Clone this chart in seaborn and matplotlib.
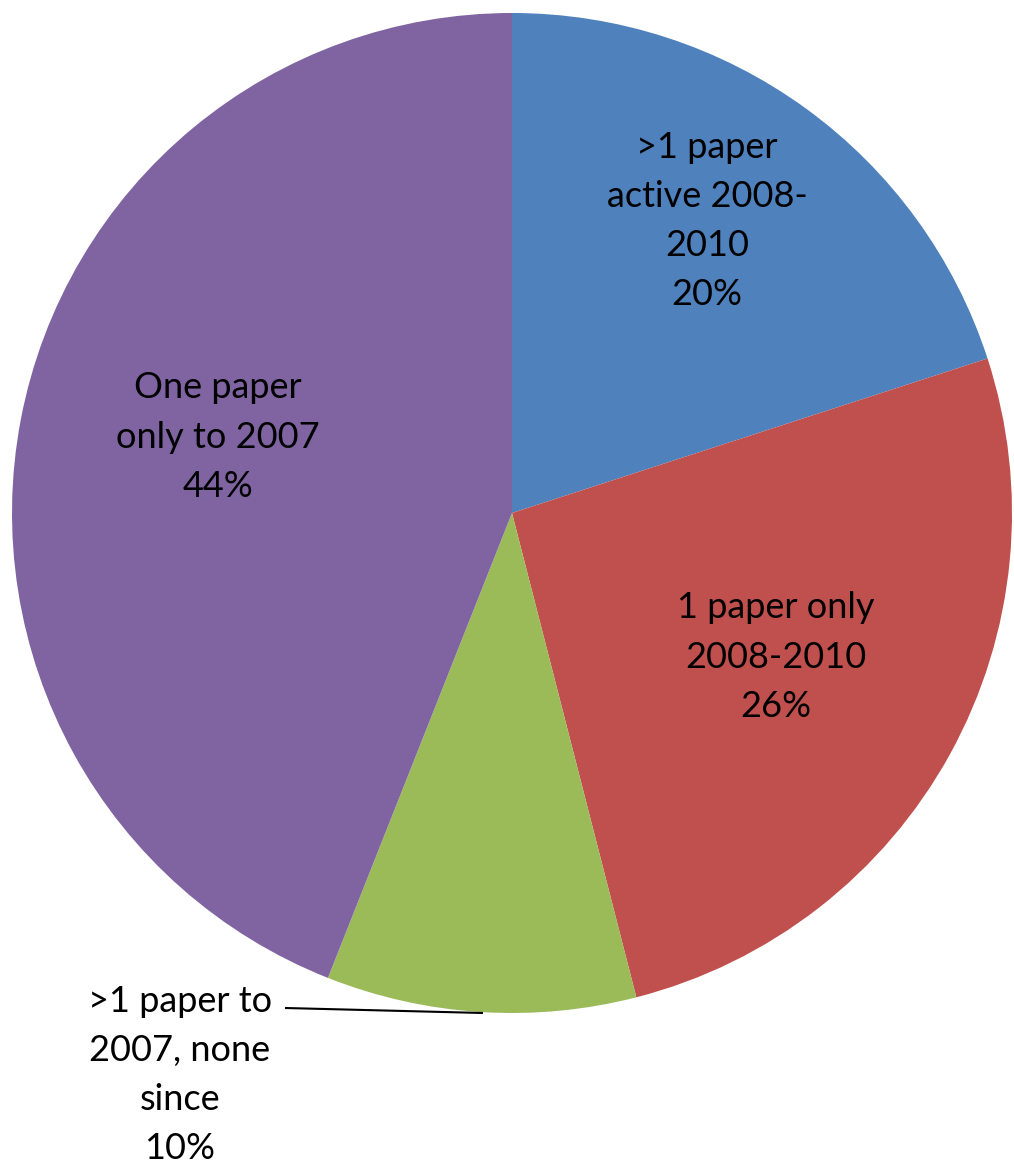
import matplotlib
matplotlib.use("Agg")
import matplotlib.pyplot as plt
import seaborn as sns

# Share of authors by publication activity
categories = [
    ">1 paper\nactive 2008-\n2010",
    "1 paper only\n2008-2010",
    ">1 paper to\n2007, none\nsince",
    "One paper\nonly to 2007",
]
shares = [20, 26, 10, 44]
colors = ["#4F81BD", "#C0504D", "#9BBB59", "#8064A2"]

sns.set_theme(style="white")
plt.rcParams["font.family"] = ["Lato", "DejaVu Sans"]

W, H = 1014, 1168
fig = plt.figure(figsize=(W / 100, H / 100), dpi=100)
ax = fig.add_axes([0, 0, 1, 1])

cx, cy, r = 512, H - 513, 500
wedges, _ = ax.pie(shares, colors=colors, startangle=90, counterclock=False,
                   center=(cx, cy), radius=r, frame=True,
                   wedgeprops=dict(linewidth=0))
ax.set_xlim(0, W)
ax.set_ylim(0, H)
ax.set_aspect("equal")
ax.axis("off")

labels = [f"{c}\n{s}%" for c, s in zip(categories, shares)]
label_pos = [(707, 221), (776, 657), (180, 1075), (218, 437)]
for text, (px, py) in zip(labels, label_pos):
    ax.text(px, H - py, text, ha="center", va="center", fontsize=26,
            linespacing=1.6, color="black")

# leader line for the small slice label
ax.plot([285, 483], [H - 1008, H - 1013], color="black", lw=1.5,
        solid_capstyle="butt")

fig.savefig("out.png", dpi=100, facecolor="white")
